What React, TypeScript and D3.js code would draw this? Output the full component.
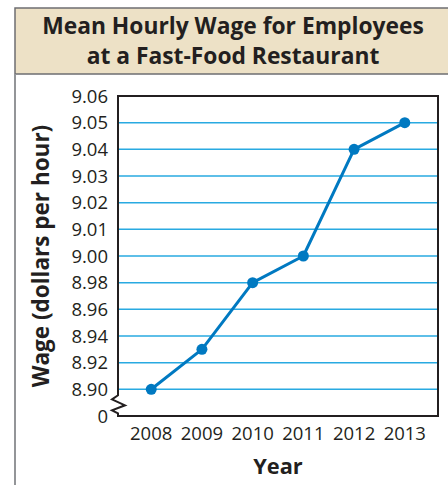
import React from "react";
import * as d3 from "d3";

const years = [2008, 2009, 2010, 2011, 2012, 2013];
const wages = [8.90, 8.93, 8.98, 9.00, 9.04, 9.05];
const yTickValues = [8.90, 8.92, 8.94, 8.96, 8.98, 9.00, 9.01, 9.02, 9.03, 9.04, 9.05, 9.06];
const yTickLabels = ["8.90", "8.92", "8.94", "8.96", "8.98", "9.00", "9.01", "9.02", "9.03", "9.04", "9.05", "9.06"];
const yZeroLabel = "0";
const titleLines = ["Mean Hourly Wage for Employees", "at a Fast-Food Restaurant"];
const xTitle = "Year";
const yTitle = "Wage (dollars per hour)";

const W = 448;
const H = 485;
const plot = { left: 118, right: 438, top: 96, bottom: 416 };
const FONT = "'Open Sans', 'Noto Sans', sans-serif";
const TEXT = "#231f20";

export default function App() {
  const x = d3
    .scalePoint<number>()
    .domain(years)
    .range([plot.left, plot.right])
    .padding(0.655);
  // Broken, non-uniform axis: 0.02 steps below 9.00, 0.01 steps above
  const y = d3
    .scaleLinear()
    .domain([8.90, 9.00, 9.06])
    .range([389.3, 256, plot.top]);

  const data = years.map((yr, i) => ({ yr, v: wages[i] }));
  const line = d3
    .line<{ yr: number; v: number }>()
    .x((d) => x(d.yr) as number)
    .y((d) => y(d.v));

  const breakTop = y(8.90) + 6;
  const ax = plot.left;
  const breakPath = `M${ax},${plot.top} L${ax},${breakTop} L${ax - 6},${breakTop + 4} L${ax + 7},${breakTop + 10} L${ax - 6},${breakTop + 15} L${ax},${breakTop + 18} L${ax},${plot.bottom} L${plot.right},${plot.bottom} L${plot.right},${plot.top} Z`;

  return (
    <svg
      width={W}
      height={H}
      style={{ position: "absolute", left: 0, top: 0, background: "#fff" }}
    >
      {/* frame */}
      <rect x={15} y={8} width={W - 15 + 2} height={66} fill="#ede1c6" stroke="#6d6e71" strokeWidth={1.5} />
      <line x1={15} y1={74} x2={15} y2={H} stroke="#939598" strokeWidth={2} />
      {titleLines.map((t, i) => (
        <text
          key={i}
          x={233}
          y={33.5 + i * 30}
          textAnchor="middle"
          fontFamily={FONT}
          fontWeight={700}
          fontSize={22.8}
          fill={TEXT}
        >
          {t}
        </text>
      ))}

      {/* gridlines */}
      {yTickValues
        .filter((v) => v < 9.06)
        .map((v) => (
          <line
            key={v}
            x1={plot.left}
            x2={plot.right}
            y1={y(v)}
            y2={y(v)}
            stroke="#29aae1"
            strokeWidth={1.5}
          />
        ))}

      {/* axes & break */}
      <path d={breakPath} fill="none" stroke={TEXT} strokeWidth={2} strokeLinejoin="miter" />

      {/* y tick labels */}
      {yTickValues.map((v, i) => (
        <text
          key={v}
          x={108}
          y={y(v)}
          dy="0.36em"
          textAnchor="end"
          fontFamily={FONT}
          fontSize={18.5}
          fill={TEXT}
        >
          {yTickLabels[i]}
        </text>
      ))}
      <text x={108} y={plot.bottom} dy="0.36em" textAnchor="end" fontFamily={FONT} fontSize={18.5} fill={TEXT}>
        {yZeroLabel}
      </text>

      {/* x tick labels */}
      {years.map((yr) => (
        <text
          key={yr}
          x={x(yr)}
          y={440}
          textAnchor="middle"
          fontFamily={FONT}
          fontSize={18.5}
          fill={TEXT}
        >
          {yr}
        </text>
      ))}

      {/* axis titles */}
      <text x={278} y={474} textAnchor="middle" fontFamily={FONT} fontWeight={700} fontSize={21.8} fill={TEXT}>
        {xTitle}
      </text>
      <text
        transform={`translate(41,256) rotate(-90)`}
        textAnchor="middle"
        dy="0.36em"
        fontFamily={FONT}
        fontWeight={700}
        fontSize={22.5}
        fill={TEXT}
      >
        {yTitle}
      </text>

      {/* data */}
      <path d={line(data) ?? ""} fill="none" stroke="#0079c1" strokeWidth={3} strokeLinejoin="round" />
      {data.map((d) => (
        <circle key={d.yr} cx={x(d.yr)} cy={y(d.v)} r={5.5} fill="#0079c1" />
      ))}
    </svg>
  );
}
